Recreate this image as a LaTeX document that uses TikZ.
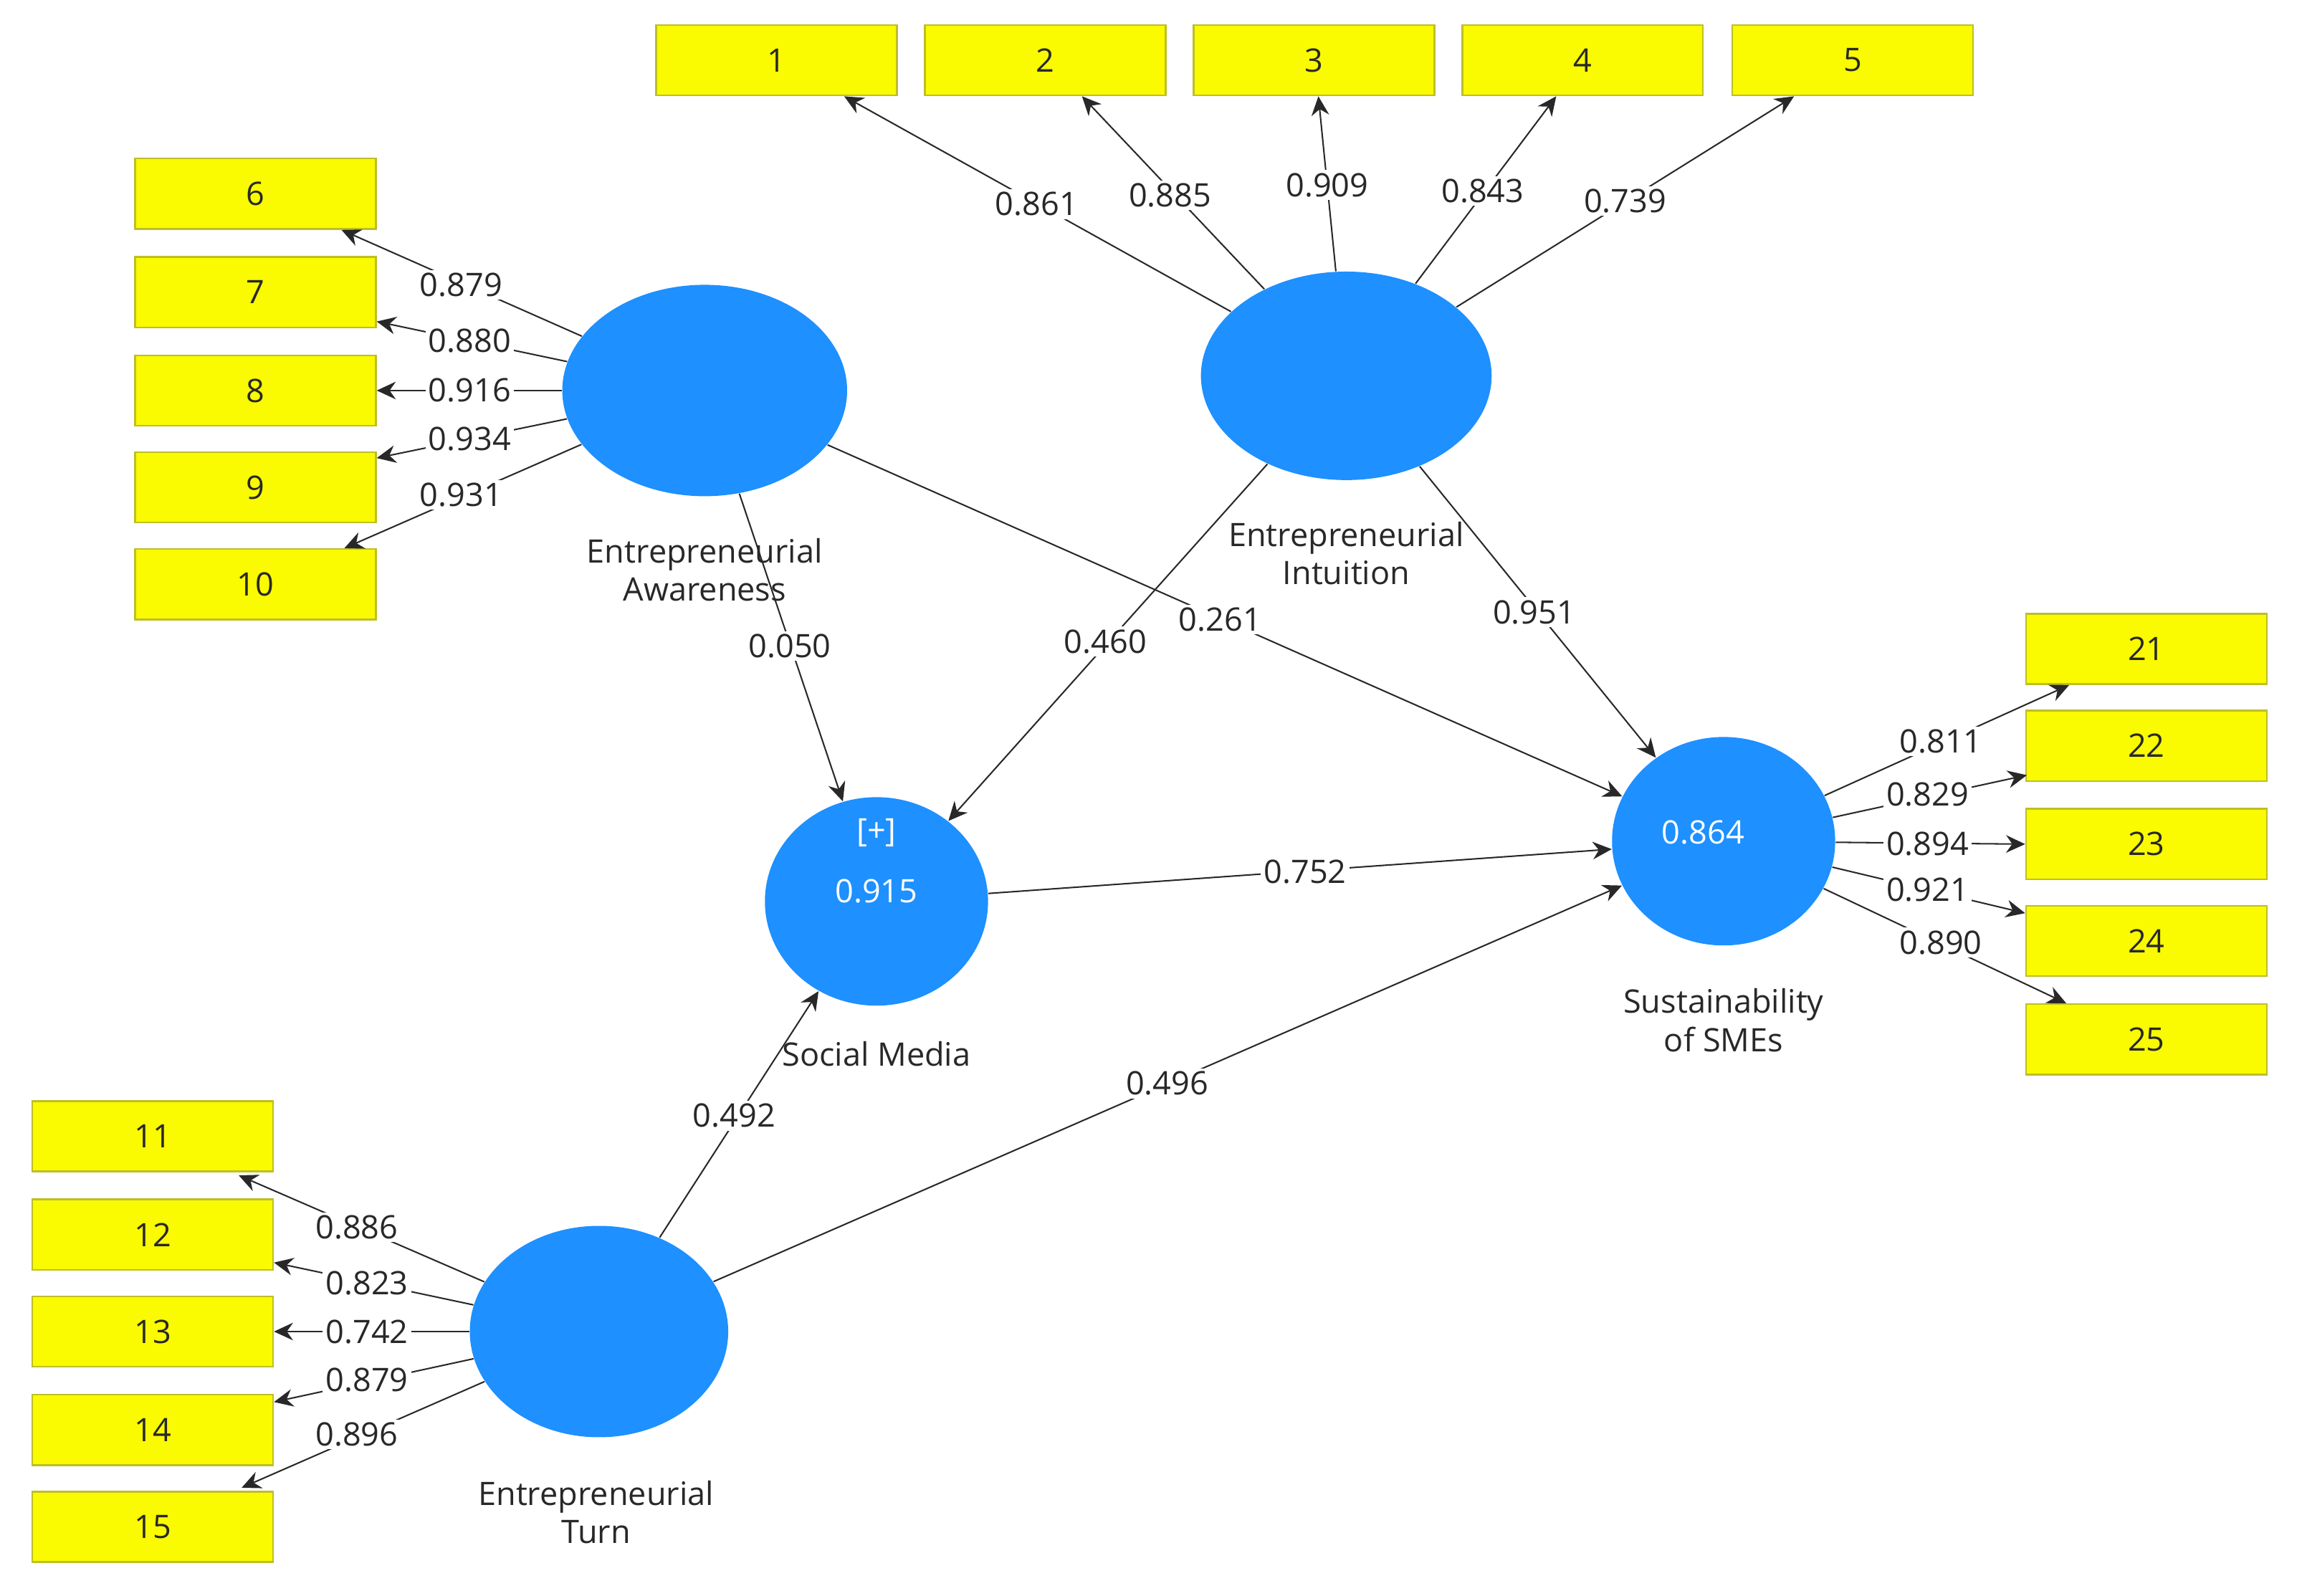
\documentclass[tikz,border=0pt]{standalone}
\usepackage{fontspec}
\setmainfont{Open Sans}
\usetikzlibrary{shapes.geometric,arrows.meta,calc}
\definecolor{ybox}{RGB}{250,250,0}
\definecolor{yedge}{RGB}{190,190,40}
\definecolor{lv}{RGB}{30,144,255}
\definecolor{ln}{RGB}{40,40,40}
\begin{document}
\begin{tikzpicture}[x=0.5pt,y=-0.5pt,
  box/.style={draw=yedge,line width=0.6pt,fill=ybox,minimum width=82pt,minimum height=24pt,inner sep=0pt,font=\fontsize{11}{12}\selectfont,text=ln},
  lat/.style={ellipse,fill=lv,draw=none,inner sep=0pt},
  ar/.style={draw=ln,line width=0.5pt,-{Stealth[length=6.5pt,width=6pt]}},
  lab/.style={fill=white,inner sep=1pt,font=\fontsize{11}{12}\selectfont,text=ln},
  nm/.style={align=center,font=\fontsize{11}{13}\selectfont,text=ln}]
\useasboundingbox (0,0) rectangle (1568,1087);
% boxes
\foreach \n/\x in {1/529,2/712,3/895,4/1078,5/1262}{\node[box] (b\n) at (\x,41) {\n};}
\foreach \n/\y in {6/132,7/199,8/266,9/332,10/398}{\node[box] (b\n) at (174,\y) {\n};}
\foreach \n/\y in {11/774,12/841,13/907,14/974,15/1040}{\node[box] (b\n) at (104,\y) {\n};}
\foreach \n/\y in {21/442,22/508,23/575,24/641,25/708}{\node[box] (b\n) at (1462,\y) {\n};}
% latent variables
\node[lat,minimum width=97pt,minimum height=72pt] (EA) at (480,266) {};
\node[lat,minimum width=99pt,minimum height=71pt] (EI) at (917,256) {};
\node[lat,minimum width=76pt,minimum height=71pt] (SM) at (597,614) {};
\node[lat,minimum width=76pt,minimum height=71pt] (SS) at (1174,573) {};
\node[lat,minimum width=88pt,minimum height=72pt] (ET) at (408,907) {};
\node[text=white,font=\fontsize{11}{12}\selectfont] (smp) at (597,567) {[+]};
\node[text=white,font=\fontsize{11}{12}\selectfont] (smv) at (597,607) {0.915};
\node[text=white,font=\fontsize{11}{12}\selectfont] (ssv) at (1160,567) {0.864};
% outer loadings
\draw[ar] (EI) -- ($(b1.south)+(46,0)$);
\draw[ar] (EI) -- ($(b2.south)+(25,0)$);
\draw[ar] (EI) -- ($(b3.south)+(3,0)$);
\draw[ar] (EI) -- ($(b4.south)+(-18,0)$);
\draw[ar] (EI) -- ($(b5.south)+(-40,0)$);
\draw[ar] (EA) -- ($(b6.south east)+(-24,0)$);
\draw[ar] (EA) -- ($(b7.east)+(0,20)$);
\draw[ar] (EA) -- (b8.east);
\draw[ar] (EA) -- ($(b9.east)+(0,-20)$);
\draw[ar] (EA) -- ($(b10.north east)+(-22,0)$);
\draw[ar] (ET) -- ($(b11.south east)+(-24,2)$);
\draw[ar] (ET) -- ($(b12.east)+(0,19)$);
\draw[ar] (ET) -- (b13.east);
\draw[ar] (ET) -- ($(b14.east)+(0,-19)$);
\draw[ar] (ET) -- ($(b15.north east)+(-22,-2)$);
\draw[ar] (SS) -- ($(b21.south west)+(30,0)$);
\draw[ar] (SS) -- ($(b22.east)+(-164,20)$);
\draw[ar] (SS) -- (b23.west);
\draw[ar] (SS) -- ($(b24.west)+(0,-19)$);
\draw[ar] (SS) -- ($(b25.north west)+(28,0)$);
% structural paths
\draw[ar] (EA) -- (SM);
\draw[ar] (EI) -- (SM);
\draw[ar] (EA) -- (SS);
\draw[ar] (EI) -- (SS);
\draw[ar] (SM) -- (SS);
\draw[ar] (ET) -- (SM);
\draw[ar] (ET) -- (SS);
% labels
\foreach \t/\x/\y in {0.861/706/139,0.885/797/133,0.909/904/126,0.843/1010/130,0.739/1107/137,
 0.879/314/194,0.880/320/232,0.916/320/266,0.934/320/299,0.931/314/337,
 0.886/243/836,0.823/250/874,0.742/250/907,0.879/250/940,0.896/243/977,
 0.811/1322/505,0.829/1313/541,0.894/1313/575,0.921/1313/606,0.890/1322/642,
 0.050/538/440,0.460/753/437,0.261/831/422,0.951/1045/417,0.752/889/594,0.492/500/760,0.496/795/738}
 {\node[lab] at (\x,\y) {\t};}
\node[nm] (nEA) at (480,388) {Entrepreneurial\\Awareness};
\node[nm] (nEI) at (917,377) {Entrepreneurial\\Intuition};
\node[nm] (nSM) at (597,718) {Social Media};
\node[nm] (nSS) at (1174,695) {Sustainability\\of SMEs};
\node[nm] (nET) at (406,1030) {Entrepreneurial\\Turn};
\end{tikzpicture}
\end{document}
